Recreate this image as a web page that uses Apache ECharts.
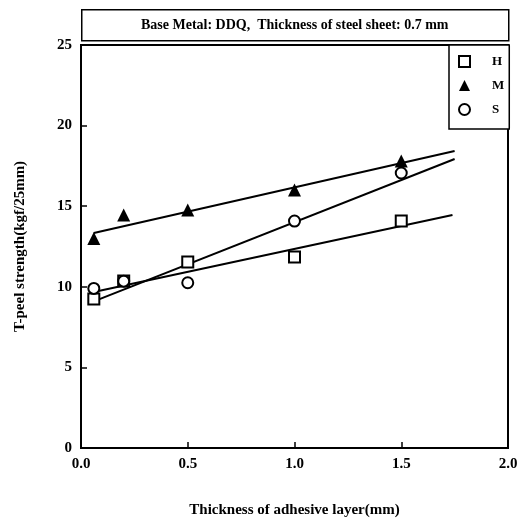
<!DOCTYPE html>
<html>
<head>
<meta charset="utf-8">
<script src="https://cdn.jsdelivr.net/npm/echarts@6/dist/echarts.min.js"></script>
<style>
  html, body { margin: 0; padding: 0; background: #fff; }
  #chart { width: 524px; height: 521px; }
</style>
</head>
<body>
<div id="chart"></div>
<script>
// measured points (thickness mm, strength kgf/25mm)
const thickness = [0.06, 0.2, 0.5, 1.0, 1.5]
const hValues = [9.24, 10.36, 11.54, 11.85, 14.08]
const mValues = [13.0, 14.45, 14.76, 16.0, 17.8]
const sValues = [9.9, 10.35, 10.25, 14.08, 17.06]

// fitted lines, end points
const hFit = [[0.06, 9.68], [1.74, 14.45]]
const mFit = [[0.06, 13.34], [1.75, 18.42]]
const sFit = [[0.06, 9.1], [1.75, 17.93]]

const titleText = 'Base Metal: DDQ,  Thickness of steel sheet: 0.7 mm'
const serif = '"Liberation Serif", "Times New Roman", serif'

const pairs = vals => thickness.map((x, i) => [x, vals[i]])

const chart = echarts.init(document.getElementById('chart'))

const fitLine = data => ({
  type: 'line',
  data: data,
  symbol: 'none',
  silent: true,
  lineStyle: { color: '#000', width: 2 },
  z: 2
})

const option = {
  animation: false,
  textStyle: { fontFamily: serif },
  grid: {
    left: 81, right: 16, top: 45, bottom: 73,
    outerBoundsMode: 'none',
    show: true, borderColor: '#000', borderWidth: 2
  },
  graphic: [{
    type: 'group',
    left: 81, top: 9,
    children: [
      {
        type: 'rect',
        shape: { x: 0, y: 0, width: 427, height: 31 },
        style: { fill: '#fff', stroke: '#000', lineWidth: 1.5 }
      },
      {
        type: 'text',
        x: 213, y: 16,
        style: {
          text: titleText, fill: '#000', font: 'bold 14px ' + serif,
          align: 'center', verticalAlign: 'middle'
        }
      }
    ]
  }],
  legend: {
    orient: 'vertical',
    left: 449, top: 45,
    padding: [10, 5, 13, 9],
    itemGap: 11,
    itemWidth: 11, itemHeight: 11,
    borderColor: '#000', borderWidth: 1.5,
    backgroundColor: '#fff',
    textStyle: { color: '#000', fontWeight: 'bold', fontSize: 13, fontFamily: serif, padding: [0, 0, 0, 17] },
    data: ['H', 'M', 'S']
  },
  xAxis: {
    type: 'value',
    min: 0, max: 2, interval: 0.5,
    name: 'Thickness of adhesive layer(mm)',
    nameLocation: 'middle', nameGap: 55,
    nameTextStyle: { color: '#000', fontWeight: 'bold', fontSize: 15, fontFamily: serif },
    axisLine: { lineStyle: { color: '#000', width: 2 } },
    axisTick: { inside: true, length: 6, lineStyle: { color: '#000', width: 1.5 } },
    axisLabel: {
      color: '#000', fontWeight: 'bold', fontSize: 15, fontFamily: serif, margin: 9,
      formatter: v => v.toFixed(1)
    },
    splitLine: { show: false }
  },
  yAxis: {
    type: 'value',
    min: 0, max: 25, interval: 5,
    name: 'T-peel strength(kgf/25mm)',
    nameLocation: 'middle', nameGap: 53,
    nameTextStyle: { color: '#000', fontWeight: 'bold', fontSize: 15, fontFamily: serif },
    axisLine: { lineStyle: { color: '#000', width: 2 } },
    axisTick: { inside: true, length: 6, lineStyle: { color: '#000', width: 1.5 } },
    axisLabel: { color: '#000', fontWeight: 'bold', fontSize: 15, fontFamily: serif, margin: 9 },
    splitLine: { show: false }
  },
  series: [
    fitLine(hFit),
    fitLine(mFit),
    fitLine(sFit),
    {
      name: 'H', type: 'scatter', data: pairs(hValues),
      symbol: 'rect', symbolSize: 11,
      itemStyle: { color: '#fff', borderColor: '#000', borderWidth: 2, opacity: 1 },
      z: 3
    },
    {
      name: 'M', type: 'scatter', data: pairs(mValues),
      symbol: 'triangle', symbolSize: 13,
      itemStyle: { color: '#000', opacity: 1 },
      z: 3
    },
    {
      name: 'S', type: 'scatter', data: pairs(sValues),
      symbol: 'circle', symbolSize: 11,
      itemStyle: { color: '#fff', borderColor: '#000', borderWidth: 2, opacity: 1 },
      z: 3
    }
  ]
}

chart.setOption(option)
</script>
</body>
</html>
